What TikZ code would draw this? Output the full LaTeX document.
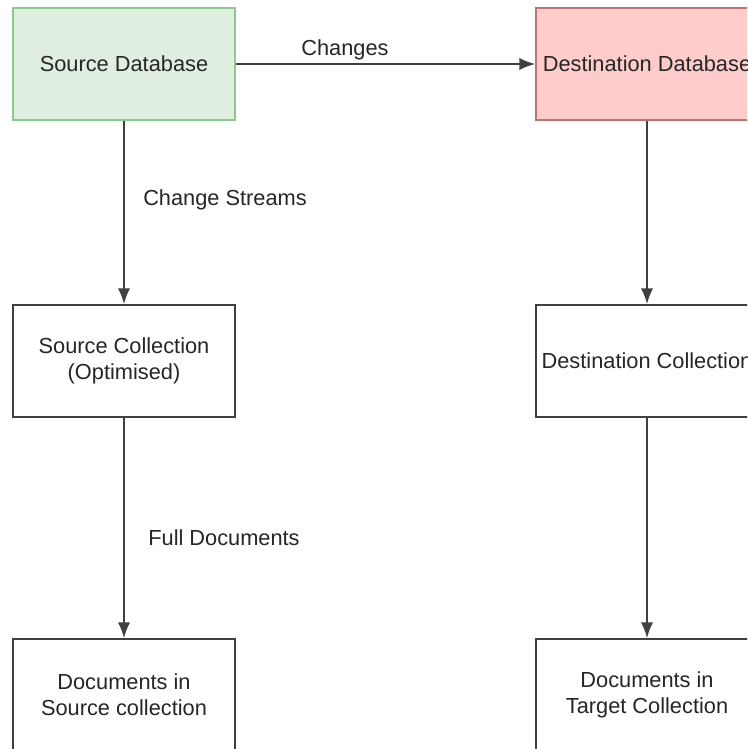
\documentclass[tikz,border=0pt]{standalone}
\usepackage{fontspec}
\setmainfont{Liberation Sans}
\usetikzlibrary{arrows.meta}

\begin{document}
\begin{tikzpicture}[x=0.02cm, y=-0.02cm,
    every node/.style={font=\fontsize{12.4}{15}\selectfont, text=black!85},
    box/.style={rectangle, draw=black!75, line width=1pt, fill=white,
      minimum width=4.44cm, minimum height=2.24cm, align=center, inner sep=0pt},
    srcbox/.style={box, fill=green!45!black!12!white, draw=green!55!black!45!white},
    dstbox/.style={box, fill=red!20!white, draw=red!55!black!55!white},
    flow/.style={draw=black!75, line width=1pt, -{Latex[length=9pt,width=7pt]}}]
  % page frame, the right column runs past the edge
  \clip (0,0) rectangle (747,749);
  \fill[white] (0,0) rectangle (747,749);

  % Databases
  \node[srcbox] (srcdb) at (124,64) {Source Database};
  \node[dstbox] (dstdb) at (647,64) {Destination Database};

  % Collections
  \node[box] (srccoll) at (124,361) {Source Collection\\(Optimised)};
  \node[box] (dstcoll) at (647,361) {Destination Collection};

  % Documents
  \node[box] (srcdocs) at (124,695) {Documents in\\Source collection};
  \node[box] (dstdocs) at (647,695) {Documents in\\Target Collection};

  % Edges
  \draw[flow] (srcdb) -- (dstdb);
  \draw[flow] (srcdb) -- (srccoll);
  \draw[flow] (srccoll) -- (srcdocs);
  \draw[flow] (dstdb) -- (dstcoll);
  \draw[flow] (dstcoll) -- (dstdocs);

  % Edge labels
  \node (lblchanges) at (345,50) {Changes};
  \node (lblstreams) at (225,200) {Change Streams};
  \node (lblfull) at (224,538) {Full Documents};
\end{tikzpicture}
\end{document}
